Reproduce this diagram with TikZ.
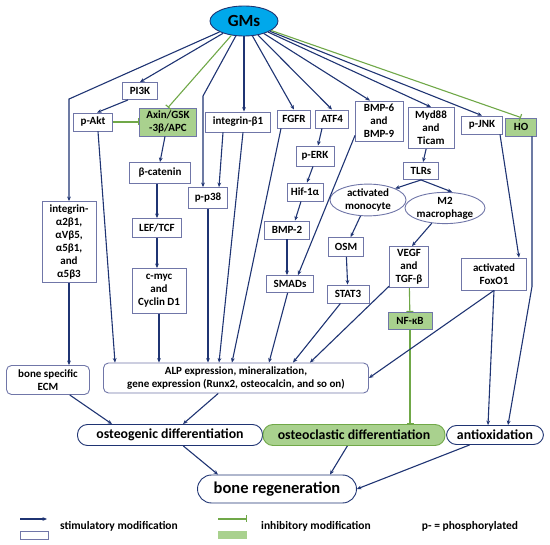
\documentclass[tikz,border=0pt]{standalone}
\usepackage{fontspec}
\setmainfont{Carlito}
\usetikzlibrary{positioning, arrows.meta, shapes.geometric, calc}
\definecolor{stimline}{RGB}{31,52,115}
\definecolor{boxline}{RGB}{112,118,168}
\definecolor{inhibline}{RGB}{112,168,72}
\definecolor{inhibfill}{RGB}{169,209,142}
\definecolor{gmsfill}{RGB}{0,168,235}

\tikzset{
  box/.style={draw=boxline, fill=white, line width=0.9pt, inner sep=0.5pt, align=center,
    font=\fontsize{11}{13}\selectfont\bfseries},
  inhbox/.style={box, fill=inhibfill},
  roundbox/.style={box, rounded corners=5pt},
  cell/.style={ellipse, draw=boxline, fill=white, line width=0.9pt, inner sep=0pt, align=center,
    font=\fontsize{11}{13}\selectfont\bfseries},
  fate/.style={draw=stimline, fill=white, line width=0.9pt, rounded corners=10pt, inner sep=0pt,
    font=\fontsize{13.8}{16}\selectfont\bfseries},
  stim/.style={->, stimline, line width=1.1pt},
  inhib/.style={-{Bar[width=7pt]}, inhibline, line width=1.1pt},
  legtext/.style={font=\fontsize{11.5}{13}\selectfont\bfseries}
}

\begin{document}
\begin{tikzpicture}[x=1pt, y=-1pt, >={Stealth[length=4.5pt, width=3.8pt]}]
\useasboundingbox (0,0) rectangle (550,545);

% Source
\node[ellipse, draw=stimline, fill=gmsfill, line width=0.9pt, minimum width=68, minimum height=30,
  inner sep=0pt, font=\fontsize{17}{18}\selectfont\bfseries] (gms) at (244,21) {GMs};

% Upper row
\node[box, minimum width=35, minimum height=17] (pi3k) at (140,91) {PI3K};
\node[box, minimum width=39, minimum height=18] (pakt) at (93,122) {p-Akt};
\node[inhbox, minimum width=57, minimum height=28] (axin) at (168,122) {Axin/GSK\\-3β/APC};
\node[box, minimum width=65, minimum height=20] (intb1) at (238,122) {integrin-β1};
\node[box, minimum width=33, minimum height=18] (fgfr) at (294,119) {FGFR};
\node[box, minimum width=33, minimum height=18] (atf4) at (332,119) {ATF4};
\node[box, minimum width=48, minimum height=40] (bmp69) at (379,121) {BMP-6\\and\\BMP-9};
\node[box, minimum width=46, minimum height=41] (myd88) at (431,128) {Myd88\\and\\Ticam};
\node[box, minimum width=41, minimum height=18] (pjnk) at (482,125) {p-JNK};
\node[inhbox, minimum width=31, minimum height=18] (ho) at (521,127) {HO};

% Middle
\node[box, minimum width=54, minimum height=81] (intga) at (69,242) {integrin-\\α2β1,\\αVβ5,\\α5β1,\\and\\α5β3};
\node[box, minimum width=61, minimum height=21] (bcat) at (160,173) {β-catenin};
\node[box, minimum width=49, minimum height=19] (leftcf) at (157,228) {LEF/TCF};
\node[box, minimum width=54, minimum height=45] (cmyc) at (159,291) {c-myc\\and\\Cyclin D1};
\node[box, minimum width=39, minimum height=21] (pp38) at (208,198) {p-p38};
\node[box, minimum width=38, minimum height=20] (perk) at (315,156) {p-ERK};
\node[box, minimum width=36, minimum height=18] (hif) at (305,192) {Hif-1α};
\node[box, minimum width=45, minimum height=18] (bmp2) at (287,230) {BMP-2};
\node[box, minimum width=47, minimum height=17] (smads) at (290,284) {SMADs};
\node[box, minimum width=35, minimum height=17] (tlrs) at (421,171) {TLRs};
\node[cell, minimum width=76, minimum height=29] (mono) at (368,200) {activated\\monocyte};
\node[cell, minimum width=76, minimum height=29] (m2) at (445,208) {M2\\macrophage};
\node[box, minimum width=35, minimum height=19] (osm) at (346,247) {OSM};
\node[box, minimum width=42, minimum height=18] (stat3) at (348,294) {STAT3};
\node[box, minimum width=39, minimum height=41] (vegf) at (409,267) {VEGF\\and\\TGF-β};
\node[inhbox, minimum width=44, minimum height=17] (nfkb) at (410,321) {NF-κB};
\node[box, minimum width=65, minimum height=32] (foxo) at (494,274) {activated\\FoxO1};

% Effects
\node[roundbox, minimum width=83, minimum height=29] (ecm) at (48,380) {bone specific\\ECM};
\node[roundbox, minimum width=265, minimum height=30] (alp) at (236,378)
  {ALP expression, mineralization,\\gene expression (Runx2, osteocalcin, and so on)};

% Outcomes
\node[fate, minimum width=185, minimum height=21] (osteog) at (170,435) {osteogenic differentiation};
\node[fate, fill=inhibfill, draw=inhibline, minimum width=182, minimum height=21] (osteoc) at (354,435) {osteoclastic differentiation};
\node[fate, minimum width=97, minimum height=19] (antiox) at (495,435) {antioxidation};
\node[fate, rounded corners=14pt, minimum width=159, minimum height=28,
  font=\fontsize{16.5}{18}\selectfont\bfseries] (bonereg) at (277,489) {bone regeneration};

% From GMs
\draw[stim] (gms) -- ([yshift=102pt]intga.north) -- (intga.north);
\draw[stim] (gms) -- (pi3k.north);
\draw[inhib] (gms) -- (axin.north);
\draw[stim] (gms) -- ([xshift=-5pt, yshift=91pt]pp38.north) -- ([xshift=-5pt]pp38.north);
\draw[stim] (gms.south) -- (gms.south |- intb1.north);
\draw[stim] (gms) -- (fgfr.north);
\draw[stim] (gms) -- (atf4.north);
\draw[stim] (gms) -- ([xshift=-9pt]bmp69.north);
\draw[stim] (gms) -- (myd88.north);
\draw[stim] (gms) -- (pjnk.north);
\draw[inhib] (gms) -- (ho.north);

% Wnt / Akt branch
\draw[stim] ([xshift=-12pt]pi3k.south) -- ([xshift=4pt]pakt.north);
\draw[inhib] (pakt) -- (axin);
\draw[stim] ([xshift=-3pt]axin.south) -- (bcat.north);
\draw[stim] ([xshift=-3pt]bcat.south) -- (leftcf.north);
\draw[stim] (leftcf) -- (leftcf |- cmyc.north);
\draw[stim] (cmyc) -- (cmyc |- alp.north);
\draw[stim] ([xshift=5pt]pakt.south) -- ([xshift=-121pt]alp.north);

% Integrins
\draw[stim] (intga) -- (ecm.north -| intga);
\draw[stim] ([xshift=-15pt]intb1.south) -- ([xshift=11pt]pp38.north);
\draw[stim] (pp38) -- (pp38 |- alp.north);
\draw[stim] ([xshift=5pt]intb1.south) -- ([xshift=-17pt]alp.north);
\draw[stim] ([xshift=-13pt]fgfr.south) -- ([xshift=-4pt]alp.north);

% ATF4 / BMP branch
\draw[stim] ([xshift=-10pt]atf4.south) -- ([xshift=3pt]perk.north);
\draw[stim] ([xshift=-2pt]perk.south) -- ([xshift=2pt]hif.north);
\draw[stim] ([xshift=-4pt]hif.south) -- ([xshift=8pt]bmp2.north);
\draw[stim] (bmp2) -- (bmp2 |- smads.north);
\draw[stim] ([xshift=-24pt, yshift=6pt]bmp69.south) -- ([xshift=8pt]smads.north);
\draw[stim] (smads) -- ([xshift=33pt]alp.north);

% TLR branch
\draw[stim] (myd88) -- (tlrs);
\draw[stim] (tlrs.south) -- (mono.north east);
\draw[stim] (tlrs.south) -- ([xshift=7pt]m2.north);
\draw[stim] (mono) -- (osm);
\draw[stim] (m2) -- ([xshift=3pt]vegf.north);
\draw[stim] (osm) -- (stat3);
\draw[stim] (stat3) -- ([xshift=57pt]alp.north);
\draw[stim] (vegf) -- ([xshift=74pt]alp.north);
\draw[inhib] (vegf) -- (nfkb);
\draw[inhib] (nfkb) -- (nfkb |- osteoc.north);

% JNK / HO branch
\draw[stim] ([xshift=18pt]pjnk.south) -- ([xshift=25pt]foxo.north);
\draw[stim] (foxo.south) -- (alp.east);
\draw[stim] (foxo.south) -- ([xshift=-7pt]antiox.north);
\draw[stim] ([xshift=11pt]ho.south) -- ([xshift=11pt, yshift=-150pt]ho.south) -- ([xshift=13pt]antiox.north);

% Towards outcomes
\draw[stim] (ecm) -- ([xshift=-58pt]osteog.north);
\draw[stim] (alp) -- ([xshift=13pt]osteog.north);
\draw[stim] (osteog) -- ([xshift=-59pt]bonereg.north);
\draw[stim] (osteoc) -- ([xshift=53pt]bonereg.north);
\draw[stim] (antiox) -- (bonereg.east);

% Legend
\coordinate (stimA) at (20,519);
\coordinate (stimB) at (47,519);
\coordinate (inhA) at (218,519);
\coordinate (inhB) at (247,519);
\draw[stim] (stimA) -- (stimB);
\draw[inhib] (inhA) -- (inhB);
\draw[draw=boxline, line width=0.9pt] (20,531) rectangle (48,539);
\fill[inhibfill] (218,531) rectangle (247,539);
\node[legtext] (legstim) at (119,526) {stimulatory modification};
\node[legtext] (leginh) at (316,526) {inhibitory modification};
\node[legtext] (legp) at (470,526) {p- = phosphorylated};

\end{tikzpicture}
\end{document}
